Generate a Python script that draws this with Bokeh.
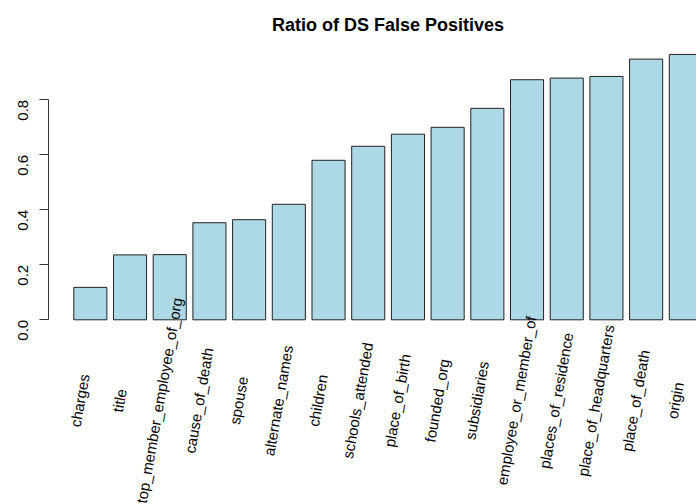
import math
from bokeh.plotting import figure
from bokeh.models import (Range1d, LinearAxis, FixedTicker, ColumnDataSource,
                          Label)
from bokeh.core.properties import value
from bokeh.embed import file_html
from bokeh.resources import INLINE

categories = ["charges", "title", "top_member_employee_of_org", "cause_of_death",
              "spouse", "alternate_names", "children", "schools_attended",
              "place_of_birth", "founded_org", "subsidiaries",
              "employee_or_member_of", "places_of_residence",
              "place_of_headquarters", "place_of_death", "origin"]
ratios = [0.118, 0.236, 0.237, 0.353, 0.364, 0.420, 0.580, 0.631,
          0.675, 0.700, 0.769, 0.873, 0.879, 0.885, 0.948, 0.965]
y_ticks = [0.0, 0.2, 0.4, 0.6, 0.8]
y_tick_labels = ["0.0", "0.2", "0.4", "0.6", "0.8"]
title_text = "Ratio of DS False Positives"

# R barplot geometry: width 1, space 0.2
centers = [1.2 * (i + 1) - 0.5 for i in range(len(categories))]
label_x = [c - 0.32 for c in centers]

FONT = "Liberation Sans"

p = figure(width=696, height=504, output_backend="svg", toolbar_location=None,
           x_range=Range1d(-0.5646, 19.0224), y_range=Range1d(-0.67164, 1.16109),
           min_border_left=48, min_border_right=0, min_border_top=0,
           min_border_bottom=0, title=None, x_axis_location=None,
           y_axis_location=None)
p.outline_line_color = None
p.xgrid.visible = False
p.ygrid.visible = False
p.background_fill_color = "white"
p.border_fill_color = "white"

src = ColumnDataSource(dict(x=centers, top=ratios, name=categories,
                            lx=label_x, ly=[-0.2935] * len(categories)))
p.vbar(x="x", top="top", bottom=0, width=1.0, source=src,
       fill_color="#ADD8E6", line_color="#222222", line_width=1)

yaxis = LinearAxis(ticker=FixedTicker(ticks=y_ticks), bounds=(0, 0.8))
yaxis.major_label_overrides = {t: l for t, l in zip(y_ticks, y_tick_labels)}
yaxis.major_label_orientation = math.pi / 2
yaxis.major_label_text_font = FONT
yaxis.major_label_text_font_size = "15px"
yaxis.major_label_text_color = "black"
yaxis.major_label_standoff = 16
yaxis.major_tick_out = 9
yaxis.major_tick_in = 0
yaxis.minor_tick_out = 0
yaxis.minor_tick_in = 0
yaxis.axis_line_color = "#333333"
yaxis.major_tick_line_color = "#333333"
p.add_layout(yaxis, "left")

p.text(x="lx", y="ly", text="name", source=src, angle=80, angle_units="deg",
       text_align="center", text_baseline="middle", text_font=value(FONT),
       text_font_size="15px", text_color="black")

title = Label(x=9.7, y=1.0738, text=title_text, text_align="center",
              text_baseline="alphabetic", text_font=FONT,
              text_font_size="18px", text_font_style="bold",
              text_color="black")
p.add_layout(title)

open("out.html", "w").write(file_html(p, INLINE))
